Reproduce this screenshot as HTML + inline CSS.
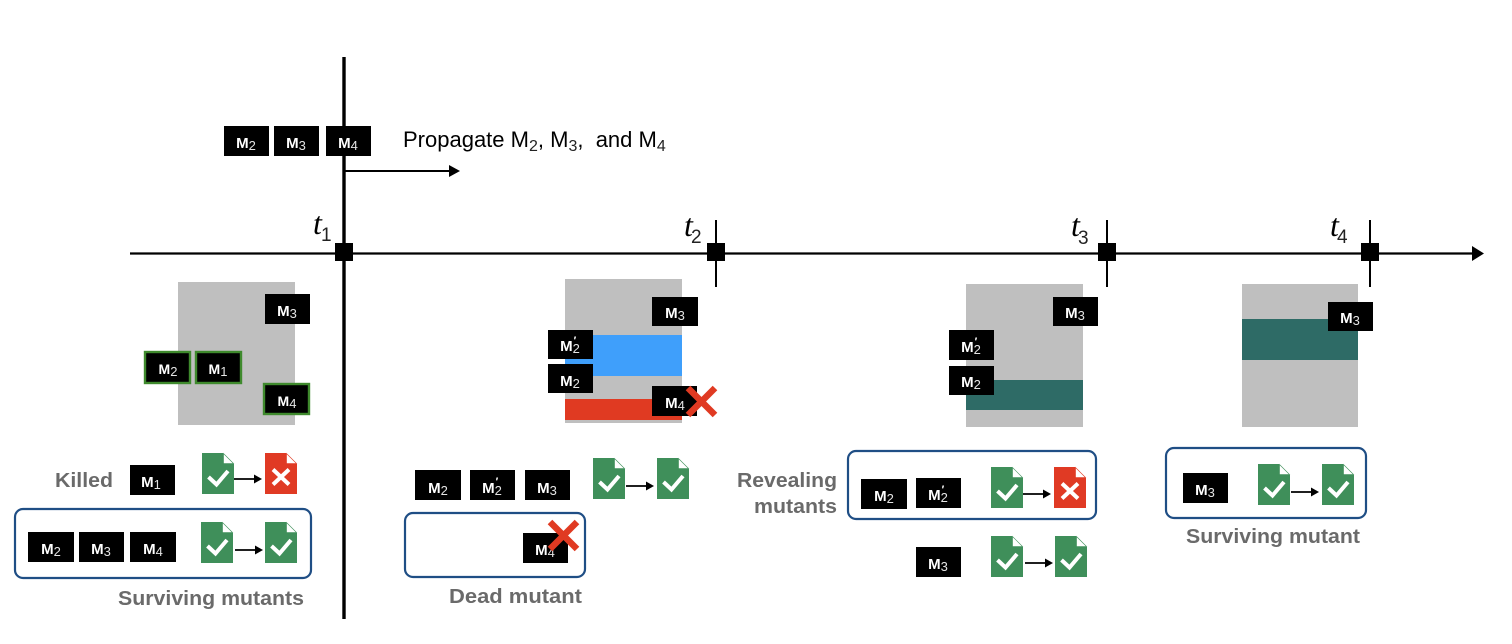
<!DOCTYPE html>
<html>
<head>
<meta charset="utf-8">
<style>
html,body{margin:0;padding:0;background:#fff;width:1512px;height:644px;overflow:hidden}
svg{display:block}
text{font-family:"Liberation Sans",sans-serif}
.m{fill:#fff;font-size:15px;font-weight:bold;text-anchor:middle}
.m tspan{font-size:13px;font-weight:normal;fill:#e4e4e4}
.g{fill:#6a6a6a;font-size:20px;font-weight:bold}
.b{fill:#000}
.box{fill:#fff;stroke:#1f4e85;stroke-width:2.2}
.t{font-family:"Liberation Serif",serif;font-style:italic;font-size:32px;fill:#000}
.sub{font-family:"Liberation Sans",sans-serif;font-size:19px;fill:#222}
.gb{fill:#000;stroke:#3f8a2d;stroke-width:2.4}
.p{fill:#000;font-size:22px}
.p tspan{font-size:16px;fill:#222}
</style>
</head>
<body>
<svg width="1512" height="644" viewBox="0 0 1512 644" xmlns="http://www.w3.org/2000/svg">
<defs>
<g id="ok">
<path d="M0 0H21L32 11V41H0Z" fill="#3f8f5a"/>
<path d="M21.5 0.5V10.5H31.5Z" fill="#fff" stroke="#3f8f5a" stroke-width="0.6"/>
<path d="M6.5 24L14.5 31.5L26 18" fill="none" stroke="#fff" stroke-width="4"/>
</g>
<g id="bad">
<path d="M0 0H21L32 11V41H0Z" fill="#e03a24"/>
<path d="M21.5 0.5V10.5H31.5Z" fill="#fff" stroke="#e03a24" stroke-width="0.6"/>
<path d="M8 16.5L24 31.5M24 16.5L8 31.5" fill="none" stroke="#fff" stroke-width="4"/>
</g>
<g id="arr">
<path d="M0 0H22" stroke="#000" stroke-width="1.8" fill="none"/>
<path d="M20 -4.5L28 0L20 4.5Z" fill="#000"/>
</g>
</defs>

<!-- gray panels -->
<rect x="178" y="282" width="117" height="143" fill="#bfbfbf"/>
<rect x="565" y="279" width="117" height="144" fill="#bfbfbf"/>
<rect x="565" y="335" width="117" height="41" fill="#3f9ffb"/>
<rect x="565" y="399" width="117" height="21" fill="#e03a22"/>
<rect x="966" y="284" width="117" height="143" fill="#bfbfbf"/>
<rect x="966" y="380" width="117" height="30" fill="#2e6b66"/>
<rect x="1242" y="284" width="116" height="143" fill="#bfbfbf"/>
<rect x="1242" y="319" width="116" height="41" fill="#2e6b66"/>

<!-- axes -->
<path d="M130 253.5H1474" stroke="#000" stroke-width="2.2" fill="none"/>
<path d="M1472 246L1484 253.5L1472 261Z" fill="#000"/>
<path d="M344 57V619" stroke="#000" stroke-width="3.4" fill="none"/>
<path d="M716 220V287M1107 220V287M1370 220V287" stroke="#000" stroke-width="2" fill="none"/>
<rect x="335" y="243" width="18" height="18" fill="#000"/>
<rect x="707" y="243" width="18" height="18" fill="#000"/>
<rect x="1098" y="243" width="18" height="18" fill="#000"/>
<rect x="1361" y="243" width="18" height="18" fill="#000"/>

<text class="t" x="313" y="234">t</text><text class="sub" x="321" y="241">1</text>
<text class="t" x="684" y="236">t</text><text class="sub" x="691" y="243">2</text>
<text class="t" x="1071" y="236">t</text><text class="sub" x="1078" y="244">3</text>
<text class="t" x="1330" y="236">t</text><text class="sub" x="1337" y="243">4</text>

<!-- propagate -->
<path d="M345 171H450" stroke="#000" stroke-width="2" fill="none"/>
<path d="M449 165L460 171L449 177Z" fill="#000"/>
<text class="p" x="403" y="147">Propagate M<tspan dy="4">2</tspan><tspan dy="-4" style="font-size:22px;fill:#000">,</tspan> M<tspan dy="4">3</tspan><tspan dy="-4" style="font-size:22px;fill:#000">,&#160; and M</tspan><tspan dy="4">4</tspan></text>

<rect class="b" x="224" y="126" width="45" height="30"/><text class="m" x="246" y="148">M<tspan dy="2">2</tspan></text>
<rect class="b" x="274" y="126" width="45" height="30"/><text class="m" x="296" y="148">M<tspan dy="2">3</tspan></text>
<rect class="b" x="326" y="126" width="45" height="30"/><text class="m" x="348" y="148">M<tspan dy="2">4</tspan></text>

<!-- panel 1 mutants -->
<rect class="b" x="265" y="294" width="45" height="30"/><text class="m" x="287" y="316">M<tspan dy="2">3</tspan></text>
<rect class="gb" x="145" y="352" width="45" height="31"/><text class="m" x="168" y="374" style="font-size:14px">M<tspan dy="2">2</tspan></text>
<rect class="gb" x="196" y="352" width="45" height="31"/><text class="m" x="218" y="374" style="font-size:14px">M<tspan dy="2">1</tspan></text>
<rect class="gb" x="264" y="384" width="45" height="30"/><text class="m" x="287" y="406" style="font-size:14px">M<tspan dy="2">4</tspan></text>

<!-- panel 2 mutants -->
<rect class="b" x="652" y="297" width="46" height="29"/><text class="m" x="675" y="318">M<tspan dy="2">3</tspan></text>
<rect class="b" x="548" y="330" width="45" height="29"/><text class="m" x="570" y="351">M<tspan dy="2">2</tspan></text><text class="m" x="575" y="344" style="font-size:11px">′</text>
<rect class="b" x="548" y="364" width="45" height="29"/><text class="m" x="570" y="386">M<tspan dy="2">2</tspan></text>
<rect class="b" x="652" y="386" width="45" height="30"/><text class="m" x="675" y="408">M<tspan dy="2">4</tspan></text>
<path d="M688 388L715 415M715 388L688 415" stroke="#e03a22" stroke-width="6.5" fill="none"/>

<!-- panel 3 mutants -->
<rect class="b" x="1053" y="297" width="45" height="29"/><text class="m" x="1075" y="318">M<tspan dy="2">3</tspan></text>
<rect class="b" x="949" y="330" width="45" height="30"/><text class="m" x="971" y="352">M<tspan dy="2">2</tspan></text><text class="m" x="976" y="345" style="font-size:11px">′</text>
<rect class="b" x="949" y="366" width="45" height="29"/><text class="m" x="971" y="387">M<tspan dy="2">2</tspan></text>

<!-- panel 4 mutant -->
<rect class="b" x="1328" y="302" width="45" height="29"/><text class="m" x="1350" y="323">M<tspan dy="2">3</tspan></text>

<!-- group 1 -->
<text class="g" x="55" y="487" textLength="58" lengthAdjust="spacingAndGlyphs">Killed</text>
<rect class="b" x="130" y="465" width="45" height="30"/><text class="m" x="151" y="487">M<tspan dy="2">1</tspan></text>
<use href="#ok" x="202" y="453"/><use href="#arr" x="234" y="479"/><use href="#bad" x="265" y="453"/>
<rect class="box" x="15" y="509" width="296" height="69" rx="8"/>
<rect class="b" x="28" y="532" width="46" height="30"/><text class="m" x="51" y="554">M<tspan dy="2">2</tspan></text>
<rect class="b" x="79" y="532" width="45" height="30"/><text class="m" x="101" y="554">M<tspan dy="2">3</tspan></text>
<rect class="b" x="130" y="532" width="46" height="30"/><text class="m" x="153" y="554">M<tspan dy="2">4</tspan></text>
<use href="#ok" x="201" y="522"/><use href="#arr" x="235" y="550"/><use href="#ok" x="265" y="522"/>
<text class="g" x="118" y="605" textLength="186" lengthAdjust="spacingAndGlyphs">Surviving mutants</text>

<!-- group 2 -->
<rect class="b" x="415" y="470" width="46" height="30"/><text class="m" x="438" y="493">M<tspan dy="2">2</tspan></text>
<rect class="b" x="470" y="470" width="45" height="30"/><text class="m" x="492" y="493">M<tspan dy="2">2</tspan></text><text class="m" x="497" y="485" style="font-size:11px">′</text>
<rect class="b" x="525" y="470" width="45" height="30"/><text class="m" x="547" y="493">M<tspan dy="2">3</tspan></text>
<use href="#ok" x="593" y="458"/><use href="#arr" x="626" y="486"/><use href="#ok" x="657" y="458"/>
<rect class="box" x="405" y="513" width="180" height="64" rx="8"/>
<rect class="b" x="523" y="533" width="45" height="30"/><text class="m" x="545" y="555">M<tspan dy="2">4</tspan></text>
<path d="M550 522L577 549M577 522L550 549" stroke="#e03a22" stroke-width="6.5" fill="none"/>
<text class="g" x="449" y="603" textLength="133" lengthAdjust="spacingAndGlyphs">Dead mutant</text>

<!-- group 3 -->
<text class="g" x="737" y="487" textLength="100" lengthAdjust="spacingAndGlyphs">Revealing</text>
<text class="g" x="754" y="513" textLength="83" lengthAdjust="spacingAndGlyphs">mutants</text>
<rect class="box" x="848" y="451" width="248" height="68" rx="8"/>
<rect class="b" x="861" y="479" width="46" height="30"/><text class="m" x="884" y="501">M<tspan dy="2">2</tspan></text>
<rect class="b" x="916" y="478" width="45" height="30"/><text class="m" x="938" y="500">M<tspan dy="2">2</tspan></text><text class="m" x="943" y="493" style="font-size:11px">′</text>
<use href="#ok" x="991" y="467"/><use href="#arr" x="1023" y="494"/><use href="#bad" x="1054" y="467"/>
<rect class="b" x="916" y="547" width="45" height="30"/><text class="m" x="938" y="569">M<tspan dy="2">3</tspan></text>
<use href="#ok" x="991" y="536"/><use href="#arr" x="1025" y="563"/><use href="#ok" x="1055" y="536"/>

<!-- group 4 -->
<rect class="box" x="1166" y="448" width="200" height="70" rx="8"/>
<rect class="b" x="1183" y="473" width="45" height="30"/><text class="m" x="1205" y="495">M<tspan dy="2">3</tspan></text>
<use href="#ok" x="1258" y="464"/><use href="#arr" x="1291" y="492"/><use href="#ok" x="1322" y="464"/>
<text class="g" x="1186" y="543" textLength="174" lengthAdjust="spacingAndGlyphs">Surviving mutant</text>
</svg>
</body>
</html>
